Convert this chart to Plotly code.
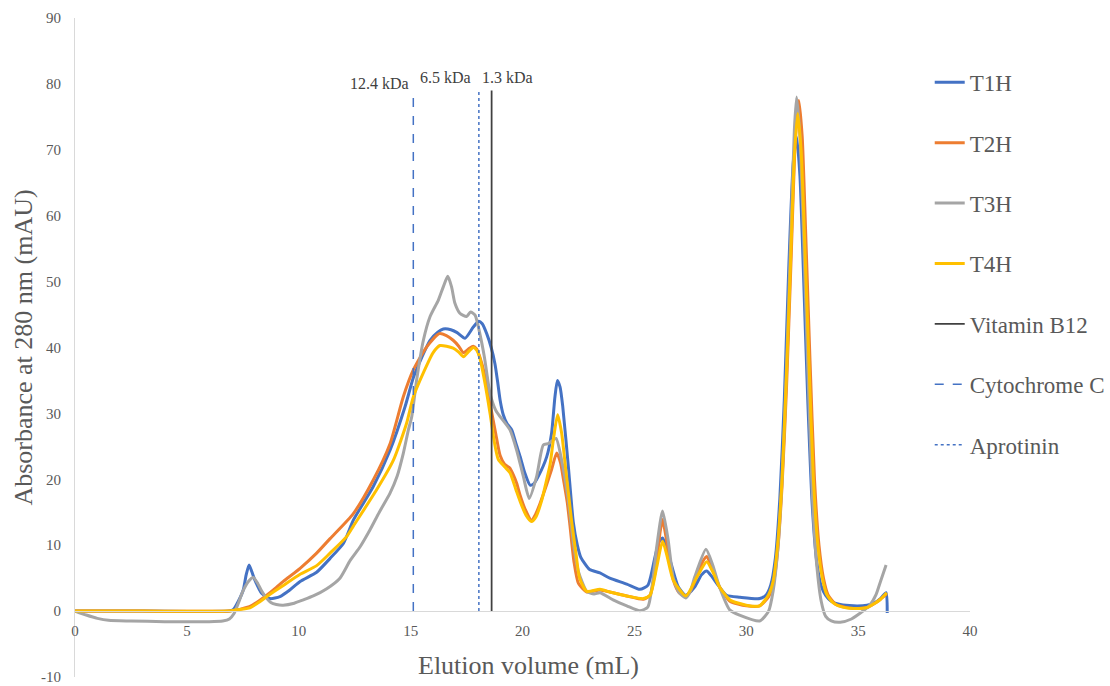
import plotly.graph_objects as go

# ---------------- data ----------------
t1h_x = [0, 3, 6.9, 7.07, 7.3, 7.52, 7.65, 7.78, 7.9, 8.04, 8.34, 8.72, 9.16, 9.6, 10.06, 10.8, 11.4, 12.0, 12.44,
         13.33, 14.08, 14.75, 15.12, 15.5, 15.87, 16.2, 16.46, 16.8, 17.06, 17.43, 17.8, 18.04, 18.2, 18.4, 18.6,
         18.77, 18.9, 19.0, 19.14, 19.3, 19.52, 19.7, 19.9, 20.1, 20.34, 20.5, 20.7, 21.08, 21.3, 21.45, 21.56,
         21.68, 21.8, 22.05, 22.27, 22.45, 22.6, 23.0, 23.46, 23.9, 24.66, 25.25, 25.6, 25.92, 26.1, 26.26, 26.4,
         26.6, 26.96, 27.3, 27.7, 28.0, 28.23, 28.45, 28.68, 29.12, 29.72, 30.6, 30.9, 31.1, 31.3, 31.5, 31.7,
         31.9, 32.1, 32.25, 32.4, 32.55, 32.75, 32.95, 33.15, 33.35, 33.55, 33.8, 34.2, 34.8, 35.4, 35.75, 36.0,
         36.25, 36.3]
t1h_y = [0, 0, 0, 0.2, 1.5, 3.2, 5.5, 7.0, 6.0, 4.7, 2.7, 1.9, 2.2, 3.2, 4.5, 5.9, 8.0, 10.3, 13.8,
         18.9, 24.4, 31.0, 35.4, 38.5, 41.1, 42.3, 42.8, 42.7, 42.3, 41.4, 43.1, 44.0, 43.6, 42.1, 40.0,
         37.5, 34.5, 32.0, 29.8, 28.5, 27.5, 25.5, 23.4, 21.0, 19.1, 19.3, 20.4, 23.4, 27.0, 32.5, 35.0,
         34.0, 31.0, 21.9, 13.5, 10.0, 8.2, 6.3, 5.8, 5.0, 4.1, 3.3, 3.9, 8.2, 10.5, 11.1, 10.0,
         7.7, 3.7, 2.4, 3.7, 5.5, 6.1, 5.3, 4.2, 2.4, 2.1, 1.9, 2.5, 4.0, 8.0, 17.0, 32.0,
         52.0, 68.0, 72.0, 66.0, 52.0, 32.0, 16.0, 7.5, 3.8, 2.4, 1.5, 1.0, 0.8, 0.9, 1.3, 1.9,
         2.8, -0.3]

t2h_x = [0, 3, 6.9, 7.07, 7.4, 7.82, 8.2, 8.57, 9.0, 9.31, 10.06, 10.8, 11.4, 12.44, 13.33, 14.08, 14.67, 15.12,
         15.72, 16.28, 16.6, 16.9, 17.15, 17.36, 17.6, 17.8, 17.95, 18.1, 18.3, 18.55, 18.8, 19.0, 19.2, 19.44,
         19.6, 19.74, 19.9, 20.1, 20.4, 20.6, 20.78, 21.08, 21.3, 21.53, 21.7, 21.83, 22.0, 22.12, 22.3, 22.5,
         22.87, 23.46, 23.9, 24.66, 25.4, 25.7, 25.85, 26.0, 26.15, 26.26, 26.4, 26.74, 27.0, 27.3, 27.5, 27.8,
         28.05, 28.23, 28.45, 28.8, 29.27, 30.0, 30.6, 31.0, 31.2, 31.4, 31.6, 31.8, 32.0, 32.2, 32.35, 32.5,
         32.65, 32.85, 33.05, 33.25, 33.45, 33.65, 34.0, 34.4, 34.8, 35.4, 35.75, 36.0, 36.28]
t2h_y = [0, 0, 0, 0.1, 0.3, 0.7, 1.5, 2.4, 3.6, 4.5, 6.5, 8.8, 11.0, 14.8, 19.9, 25.4, 32.5, 36.6,
         40.1, 42.1, 41.8, 41.1, 40.2, 39.2, 39.8, 40.2, 39.8, 38.5, 36.0, 31.5, 27.0, 23.6, 22.3, 21.7,
         20.6, 19.4, 17.5, 15.6, 13.8, 14.8, 16.3, 19.2, 21.5, 24.0, 22.5, 20.0, 16.5, 13.0, 7.5, 4.2,
         2.9, 3.2, 2.9, 2.3, 1.8, 2.4, 4.5, 7.5, 12.0, 13.9, 11.5, 4.7, 2.8, 2.3, 3.0, 5.4,
         7.5, 8.3, 6.8, 3.7, 1.5, 0.8, 0.8, 2.2, 4.0, 9.0, 19.0, 34.0, 53.0, 72.0, 77.5, 72.0,
         58.0, 38.0, 20.0, 10.0, 5.0, 2.5, 1.0, 0.6, 0.4, 0.55, 1.2, 1.8, 2.6]

t3h_x = [0, 0.5, 1.0, 1.5, 2.5, 4.0, 5.0, 6.0, 6.6, 6.9, 7.1, 7.3, 7.5, 7.75, 7.97, 8.15, 8.35, 8.55, 8.75,
         9.0, 9.3, 9.8, 10.2, 10.65, 11.25, 11.84, 12.3, 12.75, 13.18, 13.6, 14.08, 14.4, 14.67, 14.9, 15.05,
         15.27, 15.57, 15.87, 16.24, 16.46, 16.66, 16.83, 16.98, 17.2, 17.5, 17.68, 17.88, 18.1, 18.3, 18.55,
         18.8, 19.0, 19.44, 19.74, 20.04, 20.3, 20.63, 20.93, 21.15, 21.3, 21.5, 21.75, 22.05, 22.27, 22.5,
         22.87, 23.2, 23.46, 24.05, 24.66, 25.25, 25.6, 25.8, 26.0, 26.26, 26.5, 26.74, 27.0, 27.3, 27.5, 27.7,
         28.2, 28.5, 28.8, 29.27, 29.7, 30.6, 31.0, 31.2, 31.4, 31.6, 31.8, 32.0, 32.15, 32.25, 32.4, 32.55,
         32.75, 32.95, 33.15, 33.35, 33.55, 33.8, 34.2, 34.7, 35.1, 35.5, 35.8, 36.0, 36.25]
t3h_y = [0, -0.6, -1.1, -1.4, -1.5, -1.6, -1.6, -1.6, -1.5, -1.2, -0.4, 1.2, 3.0, 4.5, 5.1, 4.3, 3.0, 2.0, 1.3,
         1.0, 0.9, 1.2, 1.7, 2.3, 3.4, 5.0, 7.7, 9.8, 12.3, 15.0, 17.9, 20.5, 23.9, 27.5, 29.5,
         35.1, 41.1, 44.7, 47.2, 49.2, 50.8, 49.2, 46.7, 45.2, 44.7, 45.4, 44.9, 42.0, 38.5, 33.0,
         30.5, 29.5, 27.5, 24.4, 20.4, 17.1, 20.4, 25.2, 25.4, 25.8, 26.2, 22.9, 16.8, 10.5, 6.0,
         3.0, 2.6, 2.8, 1.7, 0.8, 0.05, 0.6, 4.0, 9.8, 15.2, 11.0, 5.0, 2.8, 2.0, 3.0, 5.2,
         9.4, 7.0, 3.7, 0.15, -0.6, -1.5, 0.0, 3.0, 9.0, 20.0, 37.0, 58.0, 73.0, 78.0, 72.0, 58.0,
         37.0, 18.0, 7.0, 1.5, -0.8, -1.5, -1.7, -1.2, -0.3, 0.8, 2.5, 4.5, 7.0]

t4h_x = [0, 3, 6.8, 7.2, 7.82, 8.2, 8.57, 9.31, 10.06, 10.8, 11.4, 12.14, 12.44, 13.48, 14.23, 14.82, 15.12, 15.72,
         16.0, 16.31, 16.9, 17.15, 17.36, 17.6, 17.8, 17.95, 18.1, 18.3, 18.55, 18.75, 18.92, 19.2, 19.44, 19.7,
         19.9, 20.15, 20.4, 20.6, 20.86, 21.05, 21.23, 21.4, 21.57, 21.75, 21.9, 22.05, 22.2, 22.4, 22.55, 22.87,
         23.46, 23.9, 24.66, 25.4, 25.7, 26.0, 26.26, 26.45, 26.74, 27.3, 27.8, 28.23, 28.5, 28.8, 29.27, 30.0,
         30.6, 31.0, 31.2, 31.4, 31.6, 31.8, 32.0, 32.15, 32.3, 32.45, 32.6, 32.8, 33.0, 33.2, 33.4, 33.6,
         33.9, 34.3, 34.8, 35.4, 35.75, 36.0, 36.28]
t4h_y = [0, 0, 0, 0.2, 0.5, 1.3, 2.2, 3.9, 5.6, 6.9, 8.8, 11.3, 12.9, 18.4, 22.9, 28.5, 32.5, 37.3,
         39.2, 40.3, 39.9, 39.3, 38.6, 39.4, 40.0, 39.6, 38.3, 35.0, 30.0, 25.5, 23.0, 21.9, 21.0, 18.5,
         16.6, 14.6, 13.6, 14.3, 16.8, 19.5, 22.2, 26.5, 29.8, 27.0, 22.5, 18.0, 13.5, 8.5, 5.0, 3.0,
         3.3, 2.9, 2.3, 1.9, 2.4, 6.7, 10.6, 8.5, 4.7, 2.3, 5.2, 7.5, 6.0, 3.7, 1.7, 0.9,
         0.8, 2.5, 4.5, 10.0, 20.0, 36.0, 55.0, 69.0, 75.5, 70.0, 57.0, 38.0, 20.0, 10.0, 5.0, 2.5,
         1.2, 0.6, 0.4, 0.55, 1.2, 1.8, 2.8]

series_names = ["T1H", "T2H", "T3H", "T4H"]
series_colors = ["#4472C4", "#ED7D31", "#A5A5A5", "#FFC000"]

marker_names = ["Vitamin B12", "Cytochrome C", "Aprotinin"]
marker_x = [18.62, 15.12, 18.05]
marker_top = 79.0
marker_colors = ["#404040", "#4472C4", "#4472C4"]
marker_dash = ["solid", "dash", "dot"]

kda_labels = ["12.4 kDa", "6.5 kDa", "1.3 kDa"]
kda_x = [13.63, 16.54, 19.35]
kda_y = [80.0, 81.0, 81.0]

x_ticks = [0, 5, 10, 15, 20, 25, 30, 35, 40]
y_ticks = [-10, 0, 10, 20, 30, 40, 50, 60, 70, 80, 90]

FONT = "Liberation Serif"
GREY = "#595959"

fig = go.Figure()
for i, (xs, ys) in enumerate([(t1h_x, t1h_y), (t2h_x, t2h_y), (t3h_x, t3h_y), (t4h_x, t4h_y)]):
    fig.add_trace(go.Scatter(
        x=xs, y=ys, mode="lines", name=series_names[i], legendgroup=series_names[i],
        line=dict(color=series_colors[i], width=3, shape="spline", smoothing=0.6),
    ))
for i in range(3):
    fig.add_trace(go.Scatter(
        x=[marker_x[i], marker_x[i]], y=[0, marker_top], mode="lines", name=marker_names[i],
        legendgroup=marker_names[i],
        line=dict(color=marker_colors[i], width=1.75 if i == 0 else 1.5, dash=marker_dash[i]),
    ))

for t, x, y in zip(kda_labels, kda_x, kda_y):
    fig.add_annotation(x=x, y=y, xref="x", yref="y", text=t, showarrow=False,
                       font=dict(family=FONT, size=16, color="#404040"))

fig.add_annotation(x=0.507, y=0.018, xref="paper", yref="paper", text="Elution volume (mL)",
                   showarrow=False, font=dict(family=FONT, size=26, color=GREY), yanchor="middle")
fig.add_annotation(x=-0.058, y=0.5, xref="paper", yref="paper", text="Absorbance at 280 nm (mAU)",
                   showarrow=False, textangle=-90, font=dict(family=FONT, size=26, color=GREY),
                   xanchor="center", yanchor="middle")

fig.update_layout(
    width=1110, height=686,
    margin=dict(l=75, r=140, t=18, b=9, autoexpand=False),
    paper_bgcolor="white", plot_bgcolor="white",
    font=dict(family=FONT, color=GREY),
    showlegend=True,
    legend=dict(x=0.955, xanchor="left", y=0.935, yanchor="top", tracegroupgap=27.5,
                font=dict(family=FONT, size=23, color=GREY), bgcolor="rgba(0,0,0,0)",
                itemwidth=30),
    xaxis=dict(range=[0, 40], tickvals=x_ticks, ticktext=[str(v) for v in x_ticks],
               showgrid=False, zeroline=False, showline=True, linecolor="#D9D9D9", linewidth=1,
               anchor="free", position=0.1, ticks="", ticklabelstandoff=6,
               tickfont=dict(family=FONT, size=15, color=GREY)),
    yaxis=dict(range=[-10, 90], tickvals=y_ticks, ticktext=[str(v) for v in y_ticks],
               showgrid=False, zeroline=False, showline=True, linecolor="#D9D9D9", linewidth=1,
               ticks="", ticklabelstandoff=10,
               tickfont=dict(family=FONT, size=15, color=GREY)),
)

fig.write_html("out.html")
